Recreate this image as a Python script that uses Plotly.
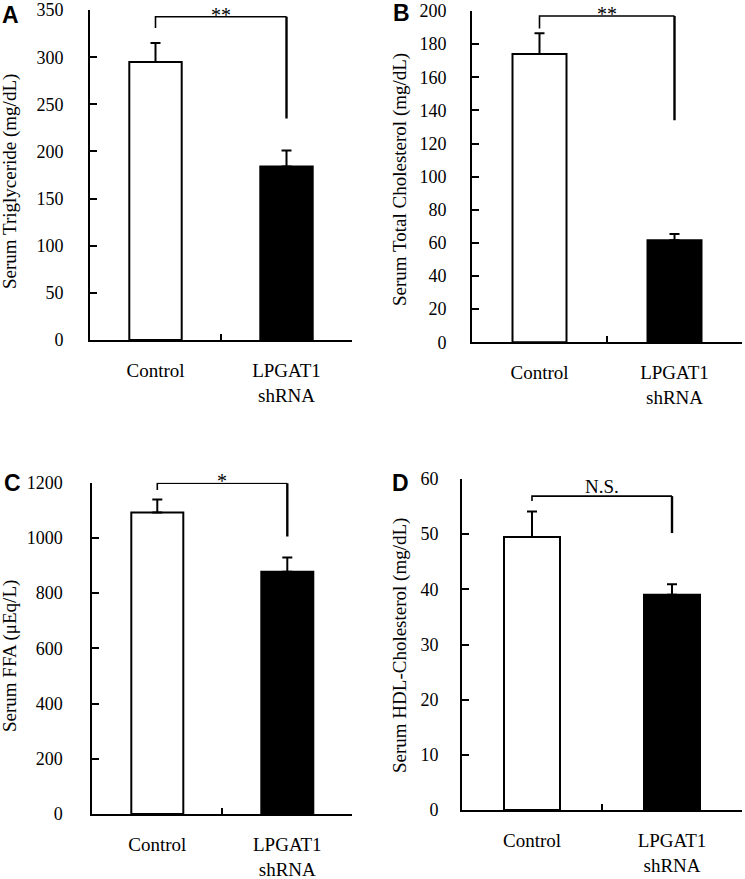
import plotly.graph_objects as go

# ---------------- data ----------------
categories = ["Control", "LPGAT1 shRNA"]
tick_text = ["Control", "LPGAT1<br>shRNA"]

tg_mean = [295, 184]
tg_err = [20, 17]

tc_mean = [174, 61.6]
tc_err = [12.5, 3.8]

ffa_mean = [1092, 877]
ffa_err = [47, 52]

hdl_mean = [49.5, 39.0]
hdl_err = [4.6, 1.9]

# significance brackets: (top, left-leg bottom, right-leg bottom)
tg_bracket = [343, 331, 235]
tc_bracket = [197, 189.5, 134]
ffa_bracket = [1198, 1174, 1005]
hdl_bracket = [56.9, 56.0, 50.2]
sig_labels = ["**", "**", "*", "N.S."]

y_titles = ["Serum Triglyceride (mg/dL)", "Serum Total Cholesterol (mg/dL)",
            "Serum FFA (\u03bcEq/L)", "Serum HDL-Cholesterol (mg/dL)"]
y_ranges = [[0, 350], [0, 200], [0, 1200], [0, 60]]
y_dticks = [50, 20, 200, 10]
panel_letters = ["A", "B", "C", "D"]

W, H = 745, 879
SERIF = "Liberation Serif"

# panel pixel boxes: (x0, x1, y_zero, y_top)
boxes = [(90, 352, 340, 10.1), (472, 742, 342.3, 11),
         (92.3, 352.3, 814, 482.7), (462, 742, 810, 479)]
title_pos = [(10, 182), (400, 180), (10, 656), (400, 646)]
letter_pos = [(10, 15), (401, 13), (12, 483), (400, 483)]
label_standoff = [21, 20, 24, 18]

means = [tg_mean, tc_mean, ffa_mean, hdl_mean]
errs = [tg_err, tc_err, ffa_err, hdl_err]
brackets = [tg_bracket, tc_bracket, ffa_bracket, hdl_bracket]

fig = go.Figure()
annotations = []

for i in range(4):
    ax = "" if i == 0 else str(i + 1)
    xa, ya = "x" + ax, "y" + ax
    fig.add_trace(go.Bar(
        x=categories, y=means[i], xaxis=xa, yaxis=ya, width=0.4,
        marker=dict(color=["white", "black"], line=dict(color="black", width=2)),
        error_y=dict(type="data", symmetric=False, array=errs[i],
                     arrayminus=[0, 0], color="black", thickness=2, width=5),
        showlegend=False, hoverinfo="skip"))
    top, lb, rb = brackets[i]
    fig.add_trace(go.Scatter(
        x=[categories[0], categories[0], categories[1]],
        y=[lb, top, top], mode="lines", xaxis=xa, yaxis=ya,
        line=dict(color="black", width=1.6), cliponaxis=False,
        showlegend=False, hoverinfo="skip"))
    fig.add_trace(go.Scatter(
        x=[categories[1], categories[1]],
        y=[top, rb], mode="lines", xaxis=xa, yaxis=ya,
        line=dict(color="black", width=2.4), cliponaxis=False,
        showlegend=False, hoverinfo="skip"))
    is_star = sig_labels[i] != "N.S."
    if is_star:
        annotations.append(dict(
            x=0.5, y=top, xref=xa, yref=ya, text=sig_labels[i], showarrow=False,
            yanchor="top", yshift=15,
            font=dict(family=SERIF, size=20, color="black")))
    else:
        annotations.append(dict(
            x=0.5, y=top, xref=xa, yref=ya, text=sig_labels[i], showarrow=False,
            yanchor="bottom", yshift=-3,
            font=dict(family=SERIF, size=19, color="black")))

    x0, x1, yz, yt = boxes[i]
    xd = [x0 / W, x1 / W]
    yd = [1 - yz / H, 1 - yt / H]
    fig.layout["xaxis" + ax] = dict(
        domain=xd, anchor=ya, type="category", range=[-0.5, 1.5],
        tickson="boundaries", ticks="inside", ticklen=6, tickwidth=2,
        tickcolor="black", showline=True, linecolor="black", linewidth=2,
        showgrid=False, zeroline=False, tickmode="array", automargin=False,
        tickvals=categories, ticktext=tick_text, ticklabelstandoff=12,
        tickfont=dict(family=SERIF, size=19, color="black"))
    fig.layout["yaxis" + ax] = dict(
        domain=yd, anchor=xa, range=y_ranges[i], dtick=y_dticks[i], tick0=0,
        ticks="inside", ticklen=7, tickwidth=2, tickcolor="black",
        showline=True, linecolor="black", linewidth=2, showgrid=False,
        zeroline=False, ticklabelstandoff=label_standoff[i], automargin=False,
        tickfont=dict(family=SERIF, size=18, color="black"))

    tx, ty = title_pos[i]
    annotations.append(dict(
        x=tx / W, y=1 - ty / H, xref="paper", yref="paper", text=y_titles[i],
        textangle=-90, showarrow=False, xanchor="center", yanchor="middle",
        font=dict(family=SERIF, size=19, color="black")))
    lx, ly = letter_pos[i]
    annotations.append(dict(
        x=lx / W, y=1 - ly / H, xref="paper", yref="paper",
        text="<b>" + panel_letters[i] + "</b>", showarrow=False,
        xanchor="center", yanchor="middle",
        font=dict(family="Liberation Sans", size=23, color="black")))

fig.update_layout(
    width=W, height=H, margin=dict(l=0, r=0, t=0, b=0, autoexpand=False),
    paper_bgcolor="white", plot_bgcolor="white",
    font=dict(family=SERIF, color="black"),
    annotations=annotations, bargap=0.6)

fig.write_html("out.html", config={"displayModeBar": False},
               post_script="document.body.style.margin='0';")
